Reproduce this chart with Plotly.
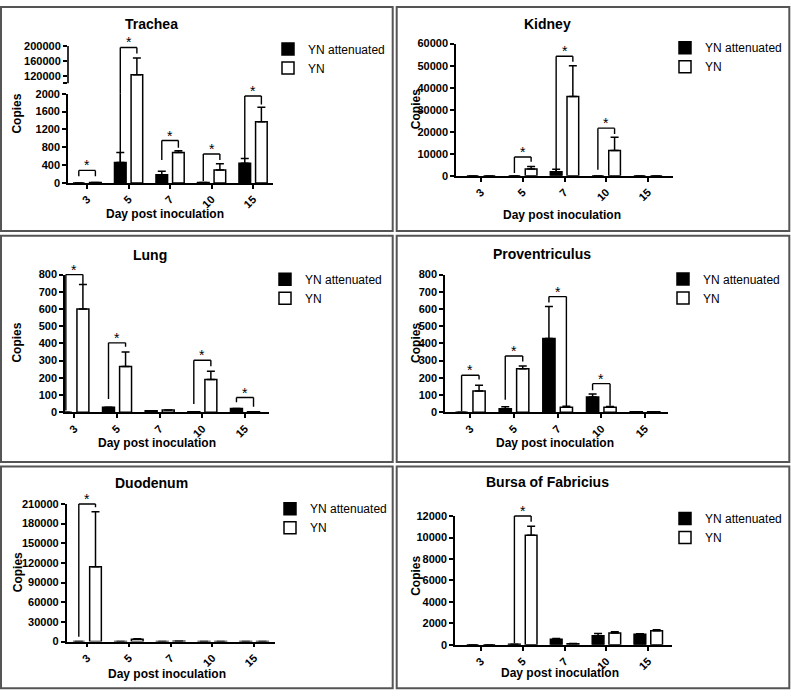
import plotly.graph_objects as go

W, H = 791, 696
DAYS = ["3", "5", "7", "10", "15"]
ATT_NAME = "YN attenuated"
YN_NAME = "YN"

# ---------------- data (copies, mean and upper SD) ----------------
trachea_att = [0, 460, 180, 10, 440]
trachea_att_err = [0, 220, 80, 0, 110]
trachea_yn = [10, 123000, 680, 290, 1370]
trachea_yn_err = [0, 45000, 40, 140, 330]
# significance brackets: (day index, bracket top, left-leg end, right-leg end)
trachea_sig = [(0, 280, 150, 150), (1, 196000, 50, 180000), (2, 950, 515, 790),
               (3, 650, 40, 515), (4, 1950, 550, 1760)]

kidney_att = [0, 0, 1800, 0, 0]
kidney_att_err = [0, 0, 1100, 0, 0]
kidney_yn = [0, 3100, 36000, 11500, 0]
kidney_yn_err = [0, 1100, 14000, 6000, 0]
kidney_sig = [(1, 8500, 1200, 6400), (2, 54300, 2000, 51800), (3, 21600, 2700, 19000)]

lung_att = [0, 28, 8, 2, 22]
lung_att_err = [0, 0, 0, 0, 0]
lung_yn = [600, 265, 12, 190, 3]
lung_yn_err = [143, 85, 0, 48, 0]
lung_sig = [(0, 800, 10, 743), (1, 403, 76, 380), (3, 302, 48, 267), (4, 85, 57, 32)]

prov_att = [0, 20, 428, 88, 2]
prov_att_err = [0, 12, 187, 17, 0]
prov_yn = [123, 253, 28, 28, 2]
prov_yn_err = [33, 15, 7, 5, 0]
prov_sig = [(0, 215, 5, 190), (1, 327, 72, 295), (2, 672, 638, 32), (3, 166, 127, 38)]

duod_att = [0, 150, 100, 80, 60]
duod_att_err = [0, 0, 0, 0, 0]
duod_yn = [114000, 3500, 300, 200, 150]
duod_yn_err = [84000, 800, 0, 0, 0]
duod_sig = [(0, 210000, 7500, 205000)]

bursa_att = [0, 50, 520, 850, 980]
bursa_att_err = [0, 0, 60, 200, 50]
bursa_yn = [0, 10200, 100, 1100, 1300]
bursa_yn_err = [0, 850, 30, 120, 100]
bursa_sig = [(1, 12000, 150, 11470)]

FONT = "Arial, Liberation Sans, sans-serif"


def fx(p):
    return p / W


def fy(p):
    return 1 - p / H


# panel layout in pixels: axis x0, x1, y_top (max tick), y_bottom (0), frame, title, labels, legend
panels = [
    dict(name="Trachea", att=trachea_att, atte=trachea_att_err, yn=trachea_yn, yne=trachea_yn_err,
         sig=trachea_sig, ax=(68, 273), ay=(89.3, 180), xr=[-0.46, 4.48], yr=[0, 2000], dt=400,
         frame=(1, 1, 392.7, 229), title=(151, 18), xt=(165, 212), yt=(17.5, 110), leg=(308, 49)),
    dict(name="Kidney", att=kidney_att, atte=kidney_att_err, yn=kidney_yn, yne=kidney_yn_err,
         sig=kidney_sig, ax=(456, 673), ay=(38.3, 172.7), xr=[-0.6, 4.6], yr=[0, 60000], dt=10000,
         frame=(396.7, 1, 789.3, 229), title=(547.7, 18.3), xt=(561.7, 212.3), yt=(416, 105), leg=(705, 47.7)),
    dict(name="Lung", att=lung_att, atte=lung_att_err, yn=lung_yn, yne=lung_yn_err,
         sig=lung_sig, ax=(65, 269.3), ay=(273.3, 413.3), xr=[-0.22, 4.57], yr=[0, 800], dt=100,
         frame=(1, 233.7, 392.7, 464), title=(150, 253.3), xt=(156.7, 445), yt=(17.5, 343), leg=(305, 283.3)),
    dict(name="Proventriculus", att=prov_att, atte=prov_att_err, yn=prov_yn, yne=prov_yn_err,
         sig=prov_sig, ax=(445, 667.7), ay=(273.3, 413.3), xr=[-0.58, 4.52], yr=[0, 800], dt=100,
         frame=(396.7, 233.7, 789.3, 464), title=(541.7, 252.7), xt=(554.5, 445), yt=(415.8, 343), leg=(703, 283)),
    dict(name="Duodenum", att=duod_att, atte=duod_att_err, yn=duod_yn, yne=duod_yn_err,
         sig=duod_sig, ax=(66.7, 275), ay=(506.7, 646.7), xr=[-0.49, 4.5], yr=[0, 210000], dt=30000,
         frame=(1, 468.7, 392.7, 694.3), title=(151.7, 485), xt=(167, 679.3), yt=(17.5, 576.7), leg=(310, 516.7)),
    dict(name="Bursa of Fabricius", att=bursa_att, atte=bursa_att_err, yn=bursa_yn, yne=bursa_yn_err,
         sig=bursa_sig, ax=(455, 671.7), ay=(519, 650), xr=[-0.62, 4.56], yr=[0, 12000], dt=2000,
         frame=(396.7, 468.7, 789.3, 694.3), title=(547.7, 484.3), xt=(560.3, 678.3), yt=(415.8, 580), leg=(705, 526.7)),
]

# ---- trachea broken axis: upper segment 100000-200000 drawn between these pixel rows ----
UP_RANGE = [100000, 200000]
UP_PX = (40.7, 78.6)          # pixel rows of 200000 and 100000
TR = panels[0]
_per_px = (UP_RANGE[1] - UP_RANGE[0]) / (UP_PX[1] - UP_PX[0])
# the upper axis is laid over the whole panel height so tall bars can run down to the baseline
UP_AXIS_LO = UP_RANGE[0] - (TR["ay"][1] - UP_PX[1]) * _per_px      # value at the x-axis row
GAP_LO = UP_RANGE[0] - (TR["ay"][0] - UP_PX[1]) * _per_px          # value at the top of the lower part

fig = go.Figure()
layout = dict(
    width=W, height=H, margin=dict(l=0, r=0, t=0, b=0),
    paper_bgcolor="white", plot_bgcolor="rgba(0,0,0,0)",
    barmode="group", bargap=0.2, bargroupgap=0.3,
    font=dict(family=FONT, color="black"),
    showlegend=True,
)
shapes = []
annotations = []

axis_common = dict(showgrid=False, zeroline=False, showline=True, linecolor="black", linewidth=1.6,
                   ticks="outside", ticklen=4, tickwidth=1.6, tickcolor="black",
                   tickfont=dict(family=FONT, size=11, color="black", weight="bold"), fixedrange=True)

ERR = dict(type="data", symmetric=False, color="black", thickness=1.5, width=4)
STYLE = {ATT_NAME: "black", YN_NAME: "white"}
IDX = list(range(len(DAYS)))


def add_series(xa, ya, name, vals, errs, legend, show, base=None):
    marker = dict(color=STYLE[name], line=dict(color="black", width=1.5))
    y = vals
    if base is not None:  # bar runs from base up to the value
        y = [None if v is None else v - base for v in vals]
    fig.add_trace(go.Bar(
        x=IDX, y=y, base=base, name=name, xaxis=xa, yaxis=ya, marker=marker,
        error_y=dict(array=errs, arrayminus=[0] * len(DAYS), **ERR),
        offsetgroup=name, legend=legend, showlegend=show))


OFF = 0.2


def seg(xref, yref, xh, yh, xt, yt, width=1.4):
    """A plain line (arrow without head) from tail (xt, yt) to head (xh, yh) in data coords."""
    annotations.append(dict(xref=xref, yref=yref, axref=xref, ayref=yref, x=xh, y=yh, ax=xt, ay=yt,
                            text="", showarrow=True, arrowhead=0, arrowwidth=width, arrowcolor="black",
                            standoff=0, startstandoff=0, borderpad=0, borderwidth=0,
                            font=dict(size=1)))


def add_bracket(xref, i, top, yl, yr_, yref_of):
    """yref_of(v0, v1) -> list of (yref, lo, hi) segments covering [v0, v1]."""
    x0, x1 = i - OFF, i + OFF
    top_ref = yref_of(top, top)[0][0]
    seg(xref, top_ref, x1, top, x0, top)
    for xx, lo in ((x0, yl), (x1, yr_)):
        for ref, a, b in yref_of(lo, top):
            seg(xref, ref, xx, a, xx, b)
    annotations.append(dict(xref=xref, yref=top_ref, x=i, y=top, text="*", showarrow=False,
                            yanchor="bottom", yshift=-5, font=dict(size=14, family=FONT, color="black")))


for k, p in enumerate(panels):
    n = k + 1
    sfx = "" if n == 1 else str(n)
    xa, ya = "x" + sfx, "y" + sfx
    legend = "legend" + sfx
    top_val = p["yr"][1]

    if n == 1:
        # lower part: bars that fit below the break
        yn_low = [v if v <= top_val else None for v in p["yn"]]
        yn_low_e = [e if v <= top_val else 0 for v, e in zip(p["yn"], p["yne"])]
        add_series(xa, ya, ATT_NAME, p["att"], p["atte"], legend, True)
        add_series(xa, ya, YN_NAME, yn_low, yn_low_e, legend, True)
        # tall bars on the upper axis (y7)
        att_hi = [v if v > top_val else None for v in p["att"]]
        yn_hi = [v if v > top_val else None for v in p["yn"]]
        yn_hi_e = [e if v > top_val else 0 for v, e in zip(p["yn"], p["yne"])]
        add_series("x", "y7", ATT_NAME, att_hi, [0] * 5, legend, False, base=UP_AXIS_LO)
        add_series("x", "y7", YN_NAME, yn_hi, yn_hi_e, legend, False, base=UP_AXIS_LO)
        layout["yaxis7"] = dict(axis_common, showline=False,
                                domain=[fy(p["ay"][1]), fy(UP_PX[0])], anchor="x",
                                range=[UP_AXIS_LO, UP_RANGE[1]],
                                tickvals=[100000, 120000, 160000, 200000],
                                ticktext=["", "120000", "160000", "200000"])
        # axis line of the upper segment only
        seg("x", "y7", p["xr"][0], UP_RANGE[1], p["xr"][0], UP_RANGE[0], width=1.6)

        def yref_of(v0, v1, lim=top_val):
            if v0 == v1:
                return [("y", v0, v1)] if v0 <= lim else [("y7", v0, v1)]
            out = []
            if v0 < lim:
                out.append(("y", v0, min(v1, lim)))
            if v1 > lim:
                out.append(("y7", GAP_LO if v0 < lim else v0, v1))
            return out
    else:
        add_series(xa, ya, ATT_NAME, p["att"], p["atte"], legend, True)
        add_series(xa, ya, YN_NAME, p["yn"], p["yne"], legend, True)
        yref_of = (lambda r: (lambda v0, v1: [(r, v0, v1)]))(ya)

    layout["xaxis" + sfx] = dict(axis_common, domain=[fx(p["ax"][0]), fx(p["ax"][1])], anchor=ya,
                                 range=p["xr"], tickvals=IDX, ticktext=DAYS, tickangle=-45)
    layout["yaxis" + sfx] = dict(axis_common, domain=[fy(p["ay"][1]), fy(p["ay"][0])], anchor=xa,
                                 range=p["yr"], dtick=p["dt"], tick0=0, tickformat="d")

    for (i, top, yl, yr_) in p["sig"]:
        add_bracket(xa, i, top, yl, yr_, yref_of)

    # frame
    f = p["frame"]
    shapes.append(dict(type="rect", xref="paper", yref="paper", x0=fx(f[0]), x1=fx(f[2]),
                       y0=fy(f[3]), y1=fy(f[1]), line=dict(color="#555555", width=2), layer="below"))
    # title and axis titles
    annotations.append(dict(xref="paper", yref="paper", x=fx(p["title"][0]), y=fy(p["title"][1]),
                            text="<b>%s</b>" % p["name"], showarrow=False, xanchor="center", yanchor="middle",
                            font=dict(size=14, family=FONT, color="black")))
    annotations.append(dict(xref="paper", yref="paper", x=fx(p["xt"][0]), y=fy(p["xt"][1]),
                            text="<b>Day post inoculation</b>", showarrow=False, xanchor="center",
                            yanchor="middle", font=dict(size=12, family=FONT, color="black")))
    annotations.append(dict(xref="paper", yref="paper", x=fx(p["yt"][0]), y=fy(p["yt"][1]),
                            text="<b>Copies</b>", showarrow=False, xanchor="center", yanchor="middle",
                            textangle=-90, font=dict(size=12, family=FONT, color="black")))
    layout[legend] = dict(x=fx(p["leg"][0] - 40), y=fy(p["leg"][1] - 20), xanchor="left", yanchor="top",
                          bgcolor="rgba(0,0,0,0)", borderwidth=0,
                          font=dict(size=12, family=FONT, color="black"), itemclick=False,
                          itemdoubleclick=False)

layout["shapes"] = shapes
layout["annotations"] = annotations
fig.update_layout(**layout)
fig.write_html("out.html", config={"displayModeBar": False},
               post_script="document.body.style.margin='0px';document.body.style.overflow='hidden';")
